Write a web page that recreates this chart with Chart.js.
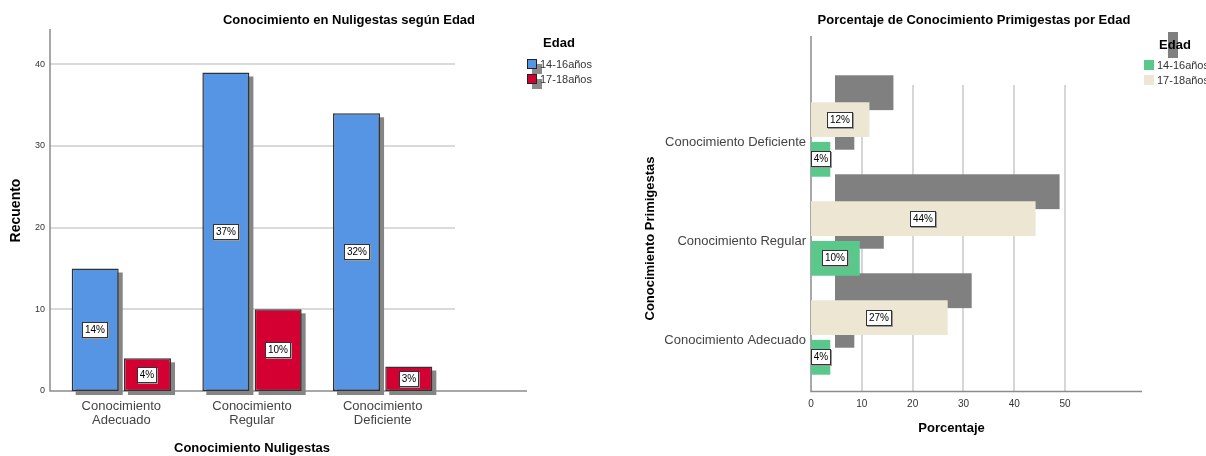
<!DOCTYPE html>
<html>
<head>
<meta charset="utf-8">
<script src="https://cdn.jsdelivr.net/npm/chart.js@4.4.1/dist/chart.umd.min.js"></script>
<style>
html,body{margin:0;padding:0;background:#fff;width:1206px;height:456px;overflow:hidden;}
canvas{position:absolute;top:0;}
#c1{left:0;}
#c2{left:603px;}
</style>
</head>
<body>
<canvas id="c1" width="603" height="456"></canvas>
<canvas id="c2" width="603" height="456"></canvas>
<script>
// ---------- Data: left chart (Nuligestas, counts) ----------
const nuliCategories = ['Conocimiento Adecuado', 'Conocimiento Regular', 'Conocimiento Deficiente'];
const nuli1416 = [15, 39, 34];
const nuli1718 = [4, 10, 3];
const nuliPct1416 = ['14%', '37%', '32%'];
const nuliPct1718 = ['4%', '10%', '3%'];
const nuliTicks = [0, 10, 20, 30, 40];

// ---------- Data: right chart (Primigestas, percentages) ----------
const primiCategories = ['Conocimiento Deficiente', 'Conocimiento Regular', 'Conocimiento Adecuado'];
const primi1416 = [3.8, 9.6, 3.8];
const primi1718 = [11.5, 44.2, 26.9];
const primiPct1416 = ['4%', '10%', '4%'];
const primiPct1718 = ['12%', '44%', '27%'];
const primiTicks = [0, 10, 20, 30, 40, 50];

const seriesNames = ['14-16años', '17-18años'];
const legendTitle = 'Edad';
const titleLeft = 'Conocimiento en Nuligestas según Edad';
const titleRight = 'Porcentaje de Conocimiento Primigestas por Edad';

const FONT = "'Liberation Sans', Arial, sans-serif";
Chart.defaults.font.family = FONT;

// ---------- plugins ----------
const leftAxes = {
  id: 'leftAxes',
  beforeDatasetsDraw(chart) {
    const {ctx, chartArea: a, scales: {y}} = chart;
    ctx.save();
    ctx.strokeStyle = '#dadada';
    ctx.lineWidth = 2;
    nuliTicks.forEach(v => {
      if (v === 0) return;
      const py = Math.round(y.getPixelForValue(v));
      ctx.beginPath(); ctx.moveTo(a.left - 6, py); ctx.lineTo(a.right + 7, py); ctx.stroke();
    });
    ctx.strokeStyle = '#8c8c8c';
    ctx.lineWidth = 1.5;
    const x0 = a.left - 6;
    ctx.beginPath();
    ctx.moveTo(x0, a.top - 1);
    ctx.lineTo(x0, a.bottom);
    ctx.lineTo(a.right + 79, a.bottom);
    ctx.stroke();
    ctx.restore();
  }
};

const rightAxes = {
  id: 'rightAxes',
  beforeDatasetsDraw(chart) {
    const {ctx, chartArea: a, scales: {x}} = chart;
    const yb = a.bottom + 4.5;
    ctx.save();
    ctx.strokeStyle = '#d6d6d6';
    ctx.lineWidth = 2;
    primiTicks.forEach(v => {
      if (v === 0) return;
      const px = Math.round(x.getPixelForValue(v));
      ctx.beginPath(); ctx.moveTo(px, a.top - 5); ctx.lineTo(px, yb); ctx.stroke();
    });
    ctx.strokeStyle = '#8c8c8c';
    ctx.lineWidth = 1.5;
    ctx.beginPath();
    ctx.moveTo(a.left, a.top - 54);
    ctx.lineTo(a.left, yb);
    ctx.lineTo(a.right + 50, yb);
    ctx.stroke();
    ctx.restore();
  }
};

function shadowPlugin(dx, dy, color) {
  return {
    id: 'shadow',
    beforeDatasetsDraw(chart) {
      const ctx = chart.ctx;
      ctx.save();
      ctx.fillStyle = color;
      chart.data.datasets.forEach((ds, i) => {
        chart.getDatasetMeta(i).data.forEach(el => {
          const p = el.getProps(['x', 'y', 'base', 'width', 'height'], true);
          if (chart.options.indexAxis === 'y') {
            const l = Math.min(p.x, p.base), w = Math.abs(p.x - p.base);
            ctx.fillRect(l + dx, p.y - p.height / 2 + dy, w, p.height);
          } else {
            const t = Math.min(p.y, p.base), h = Math.abs(p.base - p.y);
            ctx.fillRect(p.x - p.width / 2 + dx, t + dy, p.width, h);
          }
        });
      });
      ctx.restore();
    }
  };
}

function labelPlugin(pcts) {
  return {
    id: 'pctLabels',
    afterDatasetsDraw(chart) {
      const ctx = chart.ctx;
      ctx.save();
      ctx.font = '10px ' + FONT;
      ctx.textAlign = 'center';
      ctx.textBaseline = 'middle';
      chart.data.datasets.forEach((ds, i) => {
        chart.getDatasetMeta(i).data.forEach((el, j) => {
          const c = el.getCenterPoint();
          const t = pcts[i][j];
          const w = Math.ceil(ctx.measureText(t).width) + 5, h = 16;
          const bx = Math.round(c.x - w / 2), by = Math.round(c.y - h / 2);
          ctx.fillStyle = '#9a9a9a';
          ctx.fillRect(bx + 1, by + 1, w, h);
          ctx.fillStyle = '#ffffff';
          ctx.fillRect(bx, by, w, h);
          ctx.strokeStyle = '#333333';
          ctx.lineWidth = 1;
          ctx.strokeRect(bx + 0.5, by + 0.5, w - 1, h - 1);
          ctx.fillStyle = '#000';
          ctx.fillText(t, bx + w / 2, by + h / 2 + 0.5);
        });
      });
      ctx.restore();
    }
  };
}

function decorPlugin(o) {
  return {
    id: 'decor',
    afterDraw(chart) {
      const ctx = chart.ctx;
      ctx.save();
      ctx.textAlign = 'center';
      ctx.textBaseline = 'middle';
      ctx.fillStyle = '#000';
      ctx.font = 'bold 13px ' + FONT;
      ctx.fillText(o.title, o.titleX, 20);
      if (o.edadBar) {
        ctx.fillStyle = '#7f7f7f';
        ctx.fillRect(o.edadBar[0], o.edadBar[1], o.edadBar[2], o.edadBar[3]);
      }
      ctx.fillStyle = '#000';
      ctx.font = 'bold 13px ' + FONT;
      ctx.fillText(legendTitle, o.legX, o.legY);
      ctx.textAlign = 'left';
      ctx.font = '11px ' + FONT;
      o.order.forEach((di, k) => {
        const ds = chart.data.datasets[di];
        const by = o.boxY + k * 15;
        if (o.boxShadow) {
          ctx.fillStyle = '#8a8a8a';
          ctx.fillRect(o.boxX + 5, by + 5, 10, 10);
        }
        ctx.fillStyle = ds.backgroundColor;
        ctx.fillRect(o.boxX, by, 10, 10);
        if (o.boxBorder) {
          ctx.strokeStyle = '#222';
          ctx.lineWidth = 1;
          ctx.strokeRect(o.boxX + 0.5, by + 0.5, 9, 9);
        }
        ctx.fillStyle = '#333';
        ctx.fillText(ds.label, o.textX, by + 6);
      });
      ctx.restore();
    }
  };
}

// ---------- left chart ----------
new Chart(document.getElementById('c1'), {
  type: 'bar',
  data: {
    labels: nuliCategories,
    datasets: [
      {label: seriesNames[0], data: nuli1416, backgroundColor: '#5595e3', borderColor: '#333', borderWidth: 1.5, borderSkipped: false},
      {label: seriesNames[1], data: nuli1718, backgroundColor: '#d40031', borderColor: '#333', borderWidth: 1.5, borderSkipped: false}
    ]
  },
  options: {
    responsive: false,
    animation: false,
    layout: {padding: {left: 0, right: 155, top: 30, bottom: 0}},
    datasets: {bar: {barPercentage: 0.9, categoryPercentage: 0.8}},
    plugins: {legend: {display: false}, tooltip: {enabled: false}, title: {display: false}},
    scales: {
      x: {
        grid: {display: false, drawTicks: false},
        border: {display: false},
        ticks: {
          color: '#444', font: {family: FONT, size: 13, lineHeight: 1.12}, padding: 8,
          maxRotation: 0, autoSkip: false,
          callback(v) { return this.getLabelForValue(v).split(' '); }
        },
        title: {display: true, text: 'Conocimiento Nuligestas', color: '#000', font: {family: FONT, size: 13, weight: 'bold'}, padding: {top: 0, bottom: 0}},
        afterFit(s) { s.height = 65; }
      },
      y: {
        min: 0, max: 44.2,
        grid: {display: false, drawTicks: false},
        border: {display: false},
        afterBuildTicks(s) { s.ticks = nuliTicks.map(v => ({value: v})); },
        ticks: {color: '#333', font: {family: FONT, size: 9}, padding: 11},
        title: {display: true, text: 'Recuento', color: '#000', font: {family: FONT, size: 14, weight: 'bold'}, padding: {top: 8, bottom: 0}},
        afterFit(s) { s.width = 56; }
      }
    }
  },
  plugins: [
    leftAxes,
    shadowPlugin(4, 4, '#858585'),
    labelPlugin([nuliPct1416, nuliPct1718]),
    decorPlugin({title: titleLeft, titleX: 349, legX: 559, legY: 43, boxX: 527, boxY: 59, textX: 540, order: [0, 1], boxShadow: true, boxBorder: true})
  ]
});

// ---------- right chart ----------
new Chart(document.getElementById('c2'), {
  type: 'bar',
  data: {
    labels: primiCategories,
    datasets: [
      {label: seriesNames[1], data: primi1718, backgroundColor: '#ece6d2', borderWidth: 0},
      {label: seriesNames[0], data: primi1416, backgroundColor: '#5ac88b', borderWidth: 0}
    ]
  },
  options: {
    indexAxis: 'y',
    responsive: false,
    animation: false,
    layout: {padding: {left: 0, right: 114, top: 90, bottom: 0}},
    datasets: {bar: {barPercentage: 0.88, categoryPercentage: 0.8}},
    plugins: {legend: {display: false}, tooltip: {enabled: false}, title: {display: false}},
    scales: {
      x: {
        min: 0, max: 55.3,
        grid: {display: false, drawTicks: false},
        border: {display: false},
        afterBuildTicks(s) { s.ticks = primiTicks.map(v => ({value: v})); },
        ticks: {color: '#333', font: {family: FONT, size: 10}, padding: 11},
        title: {display: true, text: 'Porcentaje', color: '#000', font: {family: FONT, size: 13, weight: 'bold'}, padding: {top: 0, bottom: 20}},
        afterFit(s) { s.height = 69; }
      },
      y: {
        grid: {display: false, drawTicks: false},
        border: {display: false},
        ticks: {color: '#444', font: {family: FONT, size: 13}, padding: 5, labelOffset: 3, autoSkip: false},
        title: {display: true, text: 'Conocimiento Primigestas', color: '#000', font: {family: FONT, size: 13, weight: 'bold'}, padding: {top: 40, bottom: 0}},
        afterFit(s) { s.width = 208; }
      }
    }
  },
  plugins: [
    rightAxes,
    shadowPlugin(24, -27, '#808080'),
    labelPlugin([primiPct1718, primiPct1416]),
    decorPlugin({title: titleRight, titleX: 371, legX: 572, legY: 45, edadBar: [565, 32, 10, 26], boxX: 541, boxY: 60, textX: 554, order: [1, 0], boxShadow: false, boxBorder: false})
  ]
});
</script>
</body>
</html>
